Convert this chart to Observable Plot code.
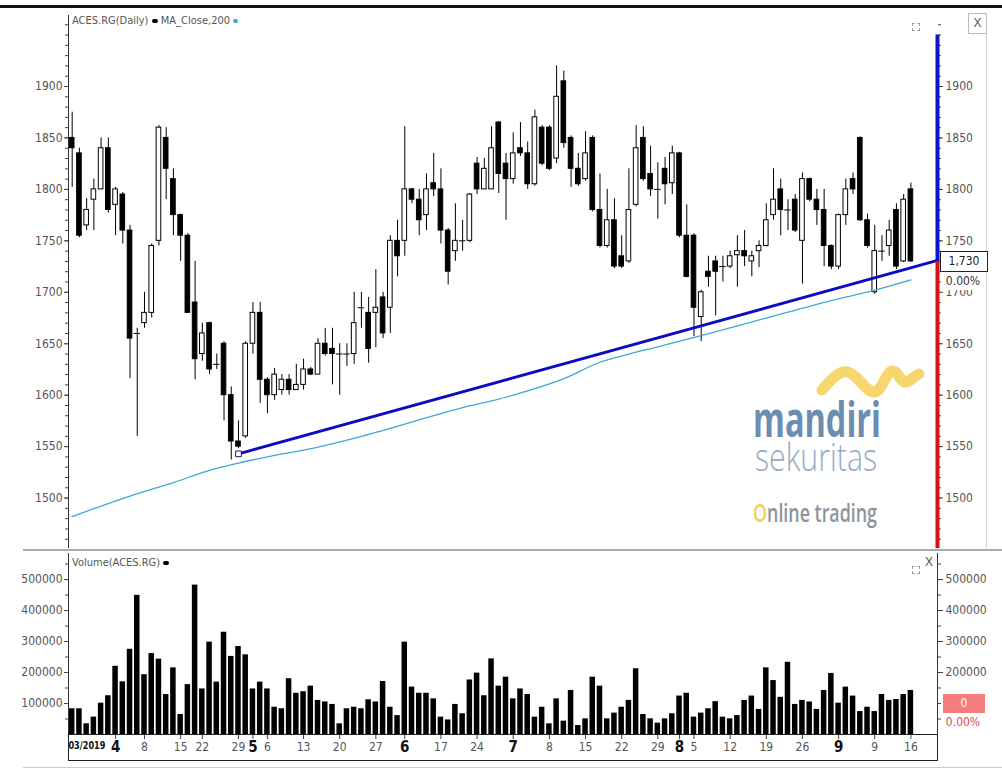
<!DOCTYPE html>
<html><head><meta charset="utf-8">
<script src="https://cdn.jsdelivr.net/npm/d3@7"></script>
<script src="https://cdn.jsdelivr.net/npm/@observablehq/plot@0.6"></script>
<style>
body{margin:0;background:#fff;}
#wrap{position:relative;width:1002px;height:776px;overflow:hidden;background:#fff;font-family:'Liberation Sans Narrow','Arial Narrow','DejaVu Sans Condensed','Liberation Sans',sans-serif;}
.abs{position:absolute;}
</style></head><body><div id="wrap"></div>
<script>
// ---------- DATA ----------
const open  = [1850,1835,1765,1790,1800,1840,1785,1795,1760,1660,1670,1680,1750,1850,1810,1775,1755,1690,1640,1670,1630,1650,1600,1555,1560,1650,1680,1615,1600,1605,1615,1605,1610,1625,1620,1650,1645,1640,1640,1640,1685,1680,1680,1695,1685,1750,1750,1800,1790,1775,1806,1800,1760,1740,1750,1750,1825,1800,1800,1865,1825,1810,1840,1835,1805,1860,1860,1830,1905,1850,1820,1810,1850,1780,1745,1770,1735,1730,1785,1850,1815,1800,1820,1806,1835,1755,1755,1676,1720,1730,1725,1725,1736,1740,1730,1740,1745,1775,1800,1780,1790,1750,1810,1790,1780,1745,1725,1775,1810,1850,1770,1700,1740,1745,1780,1730,1800];
const high  = [1875,1840,1791,1810,1850,1850,1802,1797,1765,1665,1700,1747,1862,1860,1820,1776,1757,1730,1670,1671,1640,1652,1608,1575,1652,1690,1690,1617,1626,1620,1620,1630,1635,1627,1655,1665,1665,1650,1650,1700,1700,1695,1722,1700,1755,1770,1861,1801,1800,1815,1835,1820,1762,1786,1770,1796,1831,1830,1861,1866,1835,1855,1865,1846,1877,1862,1862,1920,1915,1852,1835,1856,1852,1815,1800,1791,1755,1820,1862,1861,1842,1826,1831,1842,1836,1785,1757,1702,1735,1735,1735,1740,1755,1760,1740,1750,1786,1820,1810,1790,1795,1816,1811,1800,1800,1746,1776,1810,1816,1851,1776,1765,1755,1770,1786,1795,1806];
const low   = [1802,1753,1760,1760,1800,1777,1755,1747,1616,1560,1665,1675,1745,1790,1755,1730,1680,1615,1633,1620,1625,1575,1537,1548,1558,1640,1592,1582,1595,1600,1600,1605,1605,1619,1620,1638,1610,1600,1628,1630,1665,1631,1646,1655,1660,1715,1735,1786,1755,1760,1793,1747,1707,1730,1740,1748,1795,1800,1800,1796,1770,1805,1832,1800,1803,1823,1818,1825,1840,1802,1803,1808,1778,1743,1743,1723,1723,1728,1783,1808,1793,1771,1785,1795,1753,1714,1657,1652,1705,1677,1710,1723,1705,1725,1715,1724,1744,1770,1755,1760,1758,1708,1788,1765,1725,1722,1722,1765,1795,1769,1743,1698,1730,1735,1722,1729,1729];
const close = [1840,1755,1780,1800,1840,1780,1800,1760,1655,1660,1680,1745,1860,1820,1775,1755,1680,1635,1660,1625,1630,1600,1555,1550,1650,1680,1615,1600,1620,1615,1605,1610,1625,1620,1650,1640,1640,1640,1640,1670,1685,1645,1685,1660,1750,1735,1800,1790,1770,1800,1800,1760,1720,1750,1750,1795,1800,1820,1840,1815,1810,1835,1835,1805,1870,1825,1820,1890,1845,1820,1805,1835,1780,1745,1770,1725,1725,1780,1840,1810,1800,1800,1805,1835,1755,1715,1685,1700,1715,1720,1725,1735,1740,1735,1735,1745,1770,1790,1780,1780,1760,1810,1790,1780,1745,1725,1775,1800,1800,1770,1745,1740,1740,1760,1725,1790,1730];
const volume = [83000,83000,34500,56000,101000,125000,220000,170000,275000,449000,
  193000,261000,243000,129000,215000,64500,161000,482000,147000,298000,
  169000,330000,252000,284000,257000,147000,169000,147000,88000,83000,
  180000,133000,138000,156000,110000,105000,97000,34500,83000,88000,
  83000,112000,105000,171000,88000,61000,298000,153000,133000,133000,
  115000,56000,47000,97000,67000,176000,198000,125000,244000,156000,
  185000,115000,147000,129000,56000,88000,34500,115000,43000,142000,
  29000,50500,185000,156000,50500,69000,88000,110000,212000,64500,
  50500,36500,50500,67000,124000,133000,56000,69000,83000,106000,
  56000,50500,61000,110000,124000,81000,215000,174000,120000,233000,
  97000,110000,105000,81000,142000,197000,101000,153000,124000,74000,
  88000,74000,129000,110000,113000,129000,142000];
// MA_Close,200 read at sample bars
const maIdx = [0,8,14,19,23,27,33,40,53,61,68,73,77,81,87,96,105,111,116];
const maVal = [1482,1502,1515,1527,1534,1540,1548,1560,1586,1600,1616,1632,1640,1647,1658,1675,1692,1702,1712];
// drawn trendline (bar index, price)
const trendIdx = [23, 119.7];
const trendVal = [1543, 1731];
const lastClose = 1730;
const rangeTop = 1950;
// date axis
const dayTicks  = [10,15,18,23,27,32,37,42,51,56,66,71,76,81,86,91,96,101,111,116];
const dayLabels = ["8","15","22","29","6","13","20","27","17","24","8","15","22","29","5","12","19","26","9","16"];
const monthTicks  = [6,25,46,61,84,106];
const monthLabels = ["4","5","6","7","8","9"];
const startTick = [1];
const startLabel = ["03/2019"];
const priceMajor = [1500,1550,1600,1650,1700,1750,1800,1850,1900];
const volMajorLeft = [100000,200000,300000,400000,500000];
const volMajorRight = [200000,300000,400000,500000];

// ---------- CHART ----------
const narrow = "'Liberation Sans Narrow','Arial Narrow','DejaVu Sans Condensed',sans-serif";
const idx = d3.range(open.length);
const xDomain = [-0.51, 119.68];
const priceDomain = [1451, 1969];
const priceMinor = d3.range(1460, 1961, 10);
const volMinor = d3.range(50000, 560001, 50000);
const wrap = document.getElementById("wrap");
const style = {background: "transparent", fontFamily: narrow, fontSize: "12px", color: "#444", overflow: "visible"};

const price = Plot.plot({
  width: 1002, height: 540,
  marginLeft: 68, marginRight: 65, marginTop: 5, marginBottom: 2,
  x: {domain: xDomain, axis: null},
  y: {domain: priceDomain, axis: null},
  style,
  marks: [
    Plot.axisY({anchor: "left", ticks: priceMinor, tickSize: 3, tickFormat: () => ""}),
    Plot.axisY({anchor: "left", ticks: priceMajor, tickSize: 4, tickPadding: 2, fill: "#555", tickFormat: d => String(d)}),
    Plot.axisY({anchor: "right", ticks: priceMinor, tickSize: 3, tickFormat: () => ""}),
    Plot.axisY({anchor: "right", ticks: priceMajor, tickSize: 5, tickPadding: 3, fill: "#555", tickFormat: d => String(d)}),
    Plot.ruleX([xDomain[0]], {stroke: "#333"}),
    Plot.ruleX(idx, {x: d => d, y1: d => low[d], y2: d => high[d], stroke: "#000", strokeWidth: 1}),
    Plot.rect(idx.filter(d => open[d] !== close[d]), {
      x1: d => d - 0.32, x2: d => d + 0.32,
      y1: d => Math.min(open[d], close[d]), y2: d => Math.max(open[d], close[d]),
      fill: d => close[d] < open[d] ? "#000" : "#fff", stroke: "#000", strokeWidth: 1
    }),
    Plot.ruleY(idx.filter(d => open[d] === close[d]), {y: d => open[d], x1: d => d - 0.45, x2: d => d + 0.45, stroke: "#000"}),
    Plot.line(maIdx, {x: d => d, y: (d, i) => maVal[i], stroke: "#3fa7d6", strokeWidth: 1.3, curve: "monotone-x"}),
    Plot.line(trendIdx, {x: d => d, y: (d, i) => trendVal[i], stroke: "#0b0bc4", strokeWidth: 3}),
    Plot.dot([0], {x: () => trendIdx[0], y: () => trendVal[0], symbol: "square", r: 3.2, fill: "#fff", stroke: "#1a1a70", strokeWidth: 1}),
    Plot.ruleX([xDomain[1]], {y1: lastClose, y2: rangeTop, stroke: "#1212c8", strokeWidth: 4}),
    Plot.ruleX([xDomain[1]], {y1: priceDomain[0], y2: lastClose, stroke: "#d41414", strokeWidth: 4})
  ]
});

const labelOf = (ticks, labels) => d => labels[ticks.indexOf(d)];
const vol = Plot.plot({
  width: 1002, height: 212,
  marginLeft: 68, marginRight: 65, marginTop: 3, marginBottom: 28,
  x: {domain: xDomain, axis: null},
  y: {domain: [0, 584000], axis: null},
  style,
  marks: [
    Plot.axisY({anchor: "left", ticks: volMinor, tickSize: 3, tickFormat: () => ""}),
    Plot.axisY({anchor: "left", ticks: volMajorLeft, tickSize: 4, tickPadding: 2, fill: "#555", tickFormat: d => String(d)}),
    Plot.axisY({anchor: "right", ticks: volMinor, tickSize: 3, tickFormat: () => ""}),
    Plot.axisY({anchor: "right", ticks: volMajorRight, tickSize: 5, tickPadding: 3, fill: "#555", tickFormat: d => String(d)}),
    Plot.rect(idx, {x1: d => d - 0.38, x2: d => d + 0.38, y1: 0, y2: d => volume[d], fill: "#000"}),
    Plot.ruleX([xDomain[0]], {stroke: "#333"}),
    Plot.ruleX([xDomain[1]], {stroke: "#333"}),
    Plot.ruleY([0], {stroke: "#222"}),
    Plot.axisX({ticks: dayTicks, tickFormat: labelOf(dayTicks, dayLabels), tickSize: 5, tickPadding: 3, fontSize: 12, fill: "#555"}),
    Plot.axisX({ticks: monthTicks, tickFormat: labelOf(monthTicks, monthLabels), tickSize: 5, tickPadding: 2, fontSize: 15, fontWeight: "bold", fill: "#111"}),
    Plot.axisX({ticks: startTick, tickFormat: labelOf(startTick, startLabel), tickSize: 5, tickPadding: 2, fontSize: 11, fontWeight: "bold", fill: "#111", textAnchor: "start", dx: -11})
  ]
});
// squeeze the start label to the narrow width it has in the reference
d3.select(vol).selectAll("text").filter(function() { return this.textContent === startLabel[0]; })
  .attr("textLength", 37).attr("lengthAdjust", "spacingAndGlyphs");

// ---------- LAYOUT ----------
function add(html, css) {
  const d = document.createElement("div");
  d.className = "abs";
  d.innerHTML = html;
  Object.assign(d.style, css);
  wrap.appendChild(d);
  return d;
}
// watermark (decorative logo)
add(`<svg width="1002" height="776" xmlns="http://www.w3.org/2000/svg">
  <path d="M822,390 C832,378 840,370 848,372 C858,375 866,392 874,392 C882,392 886,372 892,371 C898,370 900,382 905,382 C910,382 914,376 919,374" fill="none" stroke="#f6cf57" stroke-opacity="0.85" stroke-width="11" stroke-linecap="round"/>
  <text x="753" y="437" font-family="'Open Sans',sans-serif" font-weight="bold" font-size="48" fill="#6d8cb2" textLength="128" lengthAdjust="spacingAndGlyphs">mandiri</text>
  <text x="755" y="471" font-family="'Open Sans',sans-serif" font-weight="300" font-size="38" fill="#97abc4" textLength="122" lengthAdjust="spacingAndGlyphs">sekuritas</text>
  <text x="753" y="522" font-family="'Open Sans',sans-serif" font-weight="600" font-size="26" textLength="124" lengthAdjust="spacingAndGlyphs"><tspan fill="#f1cf5c">O</tspan><tspan fill="#8c949c">nline trading</tspan></text>
</svg>`, {left: "0px", top: "0px", zIndex: 0});

const pDiv = add("", {left: "0px", top: "10px", zIndex: 1});
pDiv.appendChild(price);
const vDiv = add("", {left: "0px", top: "550px", zIndex: 1});
vDiv.appendChild(vol);

// frame lines
add("", {left: "0px", top: "5px", width: "1002px", height: "3px", background: "#111", zIndex: 2});
add("", {left: "23px", top: "549px", width: "979px", height: "2px", background: "#aaa", zIndex: 2});
add("", {left: "986px", top: "30px", width: "1px", height: "520px", background: "#d4d4d4", zIndex: 2});
add("", {left: "68px", top: "734px", width: "868px", height: "25px", border: "1px solid #222", zIndex: 2});
add("", {left: "23px", top: "767px", width: "979px", height: "1px", background: "#ccc", zIndex: 2});

// legends
add(`ACES.RG(Daily) <span style="display:inline-block;width:6px;height:4px;background:#000;border-radius:2px;vertical-align:middle"></span> MA_Close,200 <span style="display:inline-block;width:5px;height:4px;background:#3fa7d6;border-radius:2px;vertical-align:middle"></span>`,
  {left: "72px", top: "14px", fontSize: "11px", color: "#555", zIndex: 3, whiteSpace: "nowrap"});
add(`Volume(ACES.RG) <span style="display:inline-block;width:6px;height:4px;background:#000;border-radius:2px;vertical-align:middle"></span>`,
  {left: "72px", top: "556px", fontSize: "11px", color: "#555", zIndex: 3, whiteSpace: "nowrap"});

// panel icons
const cornerIcon = `<svg width="8" height="8"><path d="M0,3V0H3M5,0H8V3M8,5V8H5M3,8H0V5" fill="none" stroke="#666" stroke-width="1.2"/></svg>`;
add(cornerIcon, {left: "912px", top: "16px", zIndex: 3});
add("X", {left: "968px", top: "13px", width: "17px", height: "19px", border: "1px solid #bbb", fontSize: "12px", color: "#555", textAlign: "center", lineHeight: "19px", zIndex: 3, fontFamily: "'Liberation Sans',sans-serif"});
add(cornerIcon, {left: "912px", top: "559px", zIndex: 3});
add("X", {left: "925px", top: "555px", fontSize: "12px", color: "#555", zIndex: 3, fontFamily: "'Liberation Sans',sans-serif"});

// last price labels (positioned through the price scale)
const yLast = 10 + price.scale("y").apply(lastClose);
add(lastClose.toLocaleString("en-US"), {left: "940px", top: (yLast - 10) + "px", width: "46px", height: "19px", border: "1px solid #222", background: "#fff", fontSize: "12px", color: "#222", textAlign: "center", lineHeight: "19px", zIndex: 3});
add("0.00%", {left: "941px", top: (yLast + 11) + "px", width: "44px", height: "18px", background: "#fff", fontSize: "12px", color: "#333", textAlign: "center", lineHeight: "18px", zIndex: 3});
// volume last labels
const vMid = 550 + vol.scale("y").apply(100000);
add("0", {left: "943px", top: (vMid - 9.5) + "px", width: "42px", height: "19px", background: "#f47c7c", fontSize: "12px", color: "#fff", textAlign: "center", lineHeight: "19px", zIndex: 3});
add("0.00%", {left: "943px", top: (vMid + 11) + "px", width: "40px", height: "16px", fontSize: "12px", color: "#e04848", textAlign: "center", lineHeight: "16px", zIndex: 3});
</script></body></html>
